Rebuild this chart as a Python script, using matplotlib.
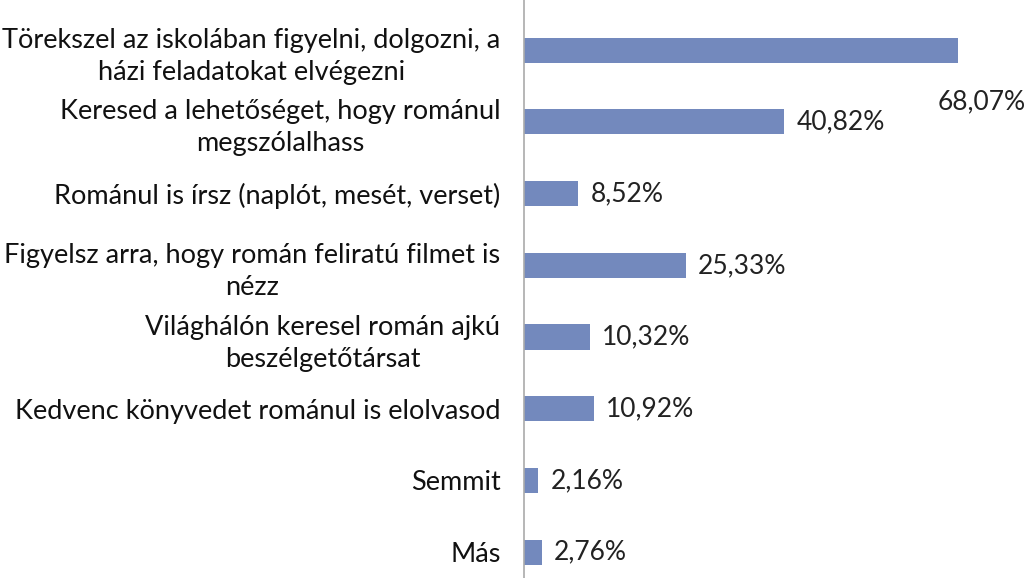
import matplotlib
matplotlib.use('Agg')
import matplotlib.pyplot as plt

categories = [
    'Törekszel az iskolában figyelni, dolgozni, a\nházi feladatokat elvégezni',
    'Keresed a lehetőséget, hogy románul\nmegszólalhass',
    'Románul is írsz (naplót, mesét, verset)',
    'Figyelsz arra, hogy román feliratú filmet is\nnézz',
    'Világhálón keresel román ajkú\nbeszélgetőtársat',
    'Kedvenc könyvedet románul is elolvasod',
    'Semmit',
    'Más',
]
values = [68.07, 40.82, 8.52, 25.33, 10.32, 10.92, 2.16, 2.76]
value_labels = ['68,07%', '40,82%', '8,52%', '25,33%', '10,32%', '10,92%', '2,16%', '2,76%']

plt.rcParams['font.family'] = ['Lato', 'DejaVu Sans']

fig = plt.figure(figsize=(10.31, 5.78), dpi=100)
ax = fig.add_axes([524 / 1031, 0, 1 - 524 / 1031, 1])

pos = list(range(len(categories)))
ax.barh(pos, values, height=0.35, color='#7389bd')

ax.set_xlim(0, 507 / 6.38)
ax.set_ylim(7.36, -0.70)
ax.set_yticks(pos)
ax.set_yticklabels(categories, fontsize=19.5, color='#111111',
                   multialignment='center', linespacing=1.35)
ax.tick_params(axis='y', length=0, pad=17)
ax.set_xticks([])

for s in ['top', 'right', 'bottom']:
    ax.spines[s].set_visible(False)
ax.spines['left'].set_color('#aaaaaa')
ax.spines['left'].set_linewidth(1.2)

for i, (v, lab) in enumerate(zip(values, value_labels)):
    if i == 0:
        ax.annotate(lab, (1.0, i + 0.72), xycoords=('axes fraction', 'data'),
                    xytext=(-4, 0), textcoords='offset points',
                    ha='right', va='center', fontsize=19, color='#222222')
    else:
        ax.annotate(lab, (v, i), xytext=(9, 0), textcoords='offset points',
                    ha='left', va='center', fontsize=19, color='#222222')

fig.savefig('out.png', dpi=100)
